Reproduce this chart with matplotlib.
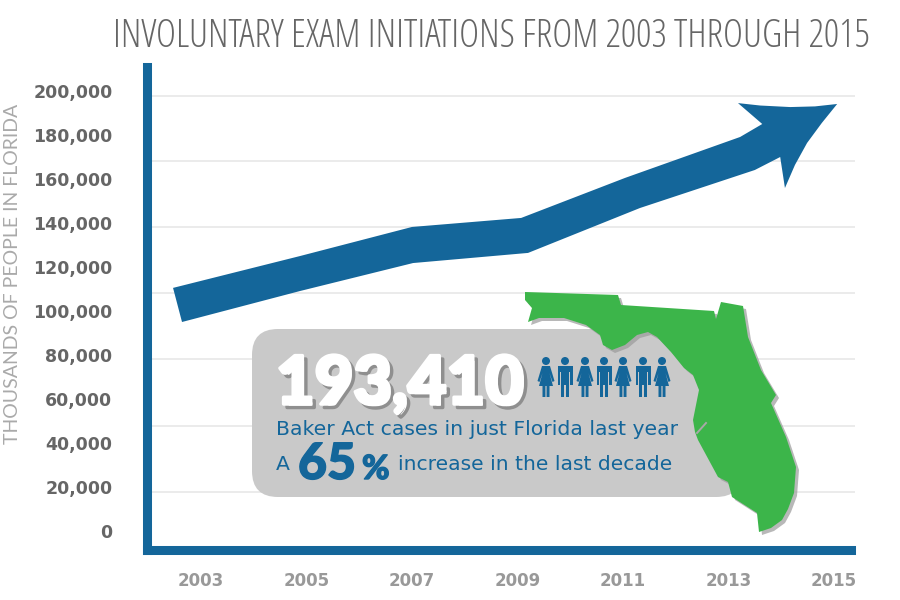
# -*- coding: utf-8 -*-
"""
Involuntary exam initiations, Florida
"""

import matplotlib
matplotlib.use("Agg")
import matplotlib.pyplot as plt
import matplotlib.patheffects as pe
from matplotlib.patches import Polygon, FancyBboxPatch, Circle

BLUE = "#14669a"
GREEN = "#3cb54a"
GREY_BOX = "#c9c9c9"

# Axis data
year_ticks = [2003, 2005, 2007, 2009, 2011, 2013, 2015]
value_ticks = [0, 20000, 40000, 60000, 80000, 100000, 120000, 140000, 160000, 180000, 200000]
grid_values = [17700, 47900, 78000, 108000, 138200, 168200, 197700]

# Arrow outline (year, value)
arrow_years = [2002.47, 2004.88, 2007.0, 2009.07, 2011.04, 2013.22, 2013.64, 2013.18,
               2013.6, 2014.17, 2014.64, 2015.06, 2014.77, 2014.49, 2014.26, 2014.07,
               2013.98, 2013.5, 2011.32, 2009.2, 2007.02, 2004.88, 2002.64]
arrow_values = [110500, 125000, 138200, 142300, 160500, 179100, 185000, 194500,
                193400, 192700, 193000, 194100, 185500, 176400, 166400, 155900,
                170000, 164100, 146800, 126400, 121800, 109100, 95000]

# Florida outline, picture pixels
florida_x = [525, 618, 621, 714, 716, 721, 743, 748, 761, 776, 771, 786, 796, 794, 788, 782, 771, 759,
             757, 732, 728, 718, 698, 695, 693, 699, 693, 684, 671, 657, 648, 637, 625,
             612, 603, 600, 586, 564, 539, 528, 532, 525]
florida_y = [292, 295, 305, 311, 319, 302, 306, 337, 370, 395, 403, 437, 467, 493, 509, 520, 528, 532,
             513, 497, 482, 477, 440, 432, 420, 390, 375, 368, 352, 337, 332, 335, 345,
             350, 345, 335, 325, 318, 318, 322, 308, 300]

# Pictogram row
person_x = [546, 565, 585, 604, 623, 643, 662]
person_kind = ["f", "m", "f", "m", "f", "m", "f"]

# Pixel placement of the axes (spine centres, the caps add half a width)
left_px, right_px, bottom_px, top_px = 146.5, 850.5, 549.5, 66.5
px_per_year = 52.75
px_per_value = 0.0022

fig = plt.figure(figsize=(9, 6), dpi=100, facecolor="white")
ax = fig.add_axes([left_px / 900, 1 - bottom_px / 600,
                   (right_px - left_px) / 900, (bottom_px - top_px) / 600])
ax.set_xlim(2003 + (left_px - 201) / px_per_year, 2003 + (right_px - 201) / px_per_year)
ax.set_ylim((531 - bottom_px) / px_per_value, (531 - top_px) / px_per_value)

ax.spines["top"].set_visible(False)
ax.spines["right"].set_visible(False)
for side in ["left", "bottom"]:
    ax.spines[side].set_linewidth(6.5)
    ax.spines[side].set_color(BLUE)
    ax.spines[side].set_capstyle("projecting")

ax.set_xticks(year_ticks)
ax.set_xticklabels([str(y) for y in year_ticks], fontsize=12, fontweight="bold", color="#999999")
ax.set_yticks(value_ticks)
ax.set_yticklabels([f"{v:,}" for v in value_ticks], fontsize=12.5, fontweight="bold", color="#666666")
ax.tick_params(axis="x", length=0, pad=16)
ax.tick_params(axis="y", length=0, pad=24.5)

grid_end = ax.get_xlim()[1] + 4.5 / px_per_year
ax.hlines(grid_values, ax.get_xlim()[0], grid_end, color="#e8e8e8", lw=1.2, zorder=1, clip_on=False)
ax.add_patch(Polygon(list(zip(arrow_years, arrow_values)), closed=True, fc=BLUE, ec="none", zorder=2))

# Overlay in picture pixels for the call-out
ov = fig.add_axes([0, 0, 1, 1])
ov.set_xlim(0, 900)
ov.set_ylim(600, 0)
ov.axis("off")
ov.patch.set_alpha(0)

ov.text(21, 274, "THOUSANDS OF PEOPLE IN FLORIDA", fontsize=14, color="#aaaaaa", family="Lato",
        rotation=90, ha="right", va="center")

ov.add_patch(FancyBboxPatch((252, 329), 490, 168, boxstyle="round,pad=0,rounding_size=26",
                            fc=GREY_BOX, ec="none", zorder=2))

# Florida with a small drop shadow
ov.add_patch(Polygon([(x + 3, y + 3) for x, y in zip(florida_x, florida_y)], closed=True,
                     fc="#9a9a9a", ec="none", alpha=0.7, zorder=3))
ov.add_patch(Polygon(list(zip(florida_x, florida_y)), closed=True, fc=GREEN, ec="none", zorder=4))
ov.plot([697, 706], [433, 423], color="#a8a8a8", lw=1.4, zorder=5)

ov.text(276, 404, "193,410", fontsize=48, family="Lato", fontweight="black", color="white",
        va="baseline", ha="left", zorder=5,
        path_effects=[pe.Stroke(linewidth=2.5, foreground="#8f8f8f", offset=(2.5, -2.5)),
                      pe.withStroke(linewidth=2.5, foreground="white")])

# People
for x, kind in zip(person_x, person_kind):
    ov.add_patch(Circle((x, 361), 4, fc=BLUE, ec="none", zorder=5))
    if kind == "f":
        ov.add_patch(Polygon([(x - 4, 366), (x + 4, 366), (x + 8.5, 381), (x + 6.5, 382), (x + 3.5, 373),
                              (x + 7, 386), (x + 3.5, 386), (x + 3.5, 397), (x + 0.6, 397), (x + 0.6, 386),
                              (x - 0.6, 386), (x - 0.6, 397), (x - 3.5, 397), (x - 3.5, 386), (x - 7, 386),
                              (x - 3.5, 373), (x - 6.5, 382), (x - 8.5, 381)],
                             closed=True, fc=BLUE, ec="none", zorder=5))
    else:
        ov.add_patch(Polygon([(x - 7.5, 366), (x + 7.5, 366), (x + 7.5, 385), (x + 4.8, 385), (x + 4.8, 372),
                              (x + 4.2, 372), (x + 4.2, 397), (x + 0.6, 397), (x + 0.6, 385), (x - 0.6, 385),
                              (x - 0.6, 397), (x - 4.2, 397), (x - 4.2, 372), (x - 4.8, 372), (x - 4.8, 385),
                              (x - 7.5, 385)],
                             closed=True, fc=BLUE, ec="none", zorder=5))

ov.text(276, 435, "Baker Act cases in just Florida last year", fontsize=14.7, color=BLUE, zorder=5)
ov.text(276, 470, "A", fontsize=14.7, color=BLUE, zorder=5)
stroke_blue = [pe.withStroke(linewidth=1, foreground=BLUE)]
ov.text(298, 479, "65", fontsize=36, family="Lato", fontweight="black", color=BLUE, zorder=5,
        path_effects=stroke_blue)
ov.text(362, 479, "%", fontsize=24, family="Lato", fontweight="black", color=BLUE, zorder=5,
        path_effects=stroke_blue)
ov.text(398, 470, "increase in the last decade", fontsize=14.6, color=BLUE, zorder=5)

ov.text(113, 47, "INVOLUNTARY EXAM INITIATIONS FROM 2003 THROUGH 2015", fontsize=27.6,
        family="Open Sans", stretch="condensed", fontweight="light", color="#666666",
        va="baseline", ha="left")

fig.savefig("out.png", dpi=100)
